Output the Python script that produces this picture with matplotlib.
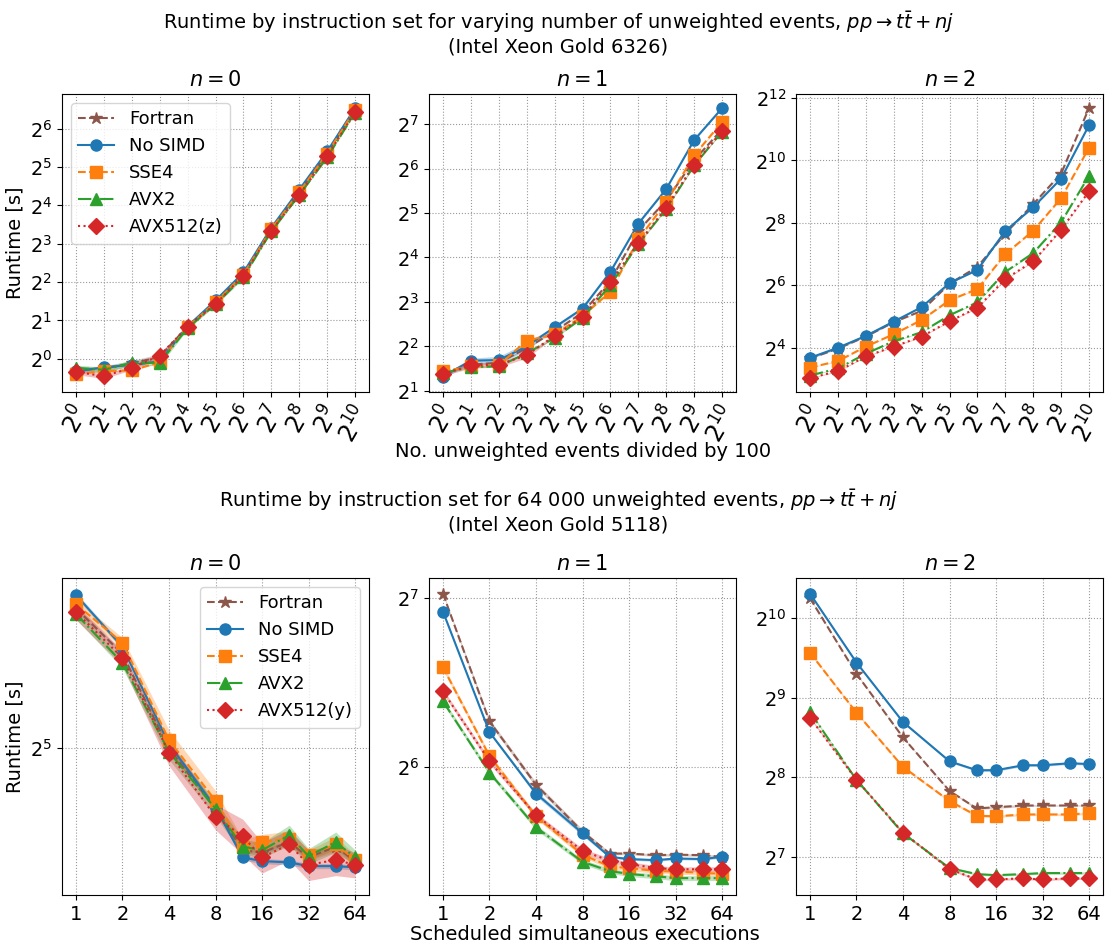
import numpy as np
import matplotlib
matplotlib.use("Agg")
from matplotlib import pyplot as plt

plt.rcParams["font.size"] = 14

# ---- data -----------------------------------------------------------------
labels = ["Fortran", "No SIMD", "SSE4", "AVX2", "AVX512"]
colors = ["tab:brown", "tab:blue", "tab:orange", "tab:green", "tab:red"]
styles = ["--", "-", "--", "-.", ":"]
markers = ["*", "o", "s", "^", "D"]

# top row: Intel Xeon Gold 6326, x = unweighted events / 100
events = [1, 2, 4, 8, 16, 32, 64, 128, 256, 512, 1024]

top_n0 = {
    "Fortran": [0.81, 0.84, 0.92, 1.035, 1.80, 2.77, 4.59, 10.4, 20.4, 40.8, 90.5],
    "No SIMD": [0.795, 0.858, 0.895, 0.953, 1.80, 2.87, 4.76, 10.7, 21.3, 42.5, 93.0],
    "SSE4": [0.76, 0.80, 0.81, 0.94, 1.78, 2.77, 4.59, 10.4, 20.4, 40.8, 90.5],
    "AVX2": [0.85, 0.82, 0.93, 0.93, 1.74, 2.68, 4.38, 9.99, 19.3, 38.1, 85.6],
    "AVX512": [0.79, 0.73, 0.85, 1.06, 1.79, 2.69, 4.50, 10.1, 19.4, 38.9, 86.8],
}
top_n1 = {
    "Fortran": [2.64, 3.01, 3.10, 3.89, 5.06, 6.77, 11.1, 24.3, 38.9, 73.0, 118],
    "No SIMD": [2.50, 3.20, 3.23, 4.00, 5.39, 7.21, 12.8, 27.1, 46.5, 99.7, 164],
    "SSE4": [2.71, 2.93, 2.97, 4.38, 4.82, 6.41, 9.38, 21.3, 37.8, 78.8, 132],
    "AVX2": [2.64, 2.89, 2.93, 3.60, 4.56, 6.23, 10.4, 19.7, 34.1, 67.2, 114],
    "AVX512": [2.60, 2.97, 3.01, 3.48, 4.72, 6.32, 10.9, 20.0, 34.8, 68.1, 115],
}
top_n2 = {
    "Fortran": [12.6, 15.7, 20.5, 28.2, 36.3, 66.3, 96.3, 202, 388, 765, 3281],
    "No SIMD": [12.8, 16.0, 20.8, 28.6, 39.4, 67.2, 89.9, 214, 362, 685, 2241],
    "SSE4": [10.3, 11.9, 16.4, 21.6, 29.6, 45.9, 58.9, 128, 215, 443, 1361],
    "AVX2": [8.63, 10.1, 14.0, 18.5, 22.6, 32.9, 44.0, 86.2, 131, 260, 729],
    "AVX512": [8.17, 9.5, 13.2, 16.4, 20.5, 28.8, 38.9, 73.5, 109, 220, 516],
}

# bottom row: Intel Xeon Gold 5118, 64 000 events
execs = [1, 2, 4, 8, 12, 16, 24, 32, 48, 64]

bot_n0 = {
    "Fortran": [55.4, 46.3, 31.9, 25.2, 21.4, 21.2, 22.1, 20.8, 21.7, 20.5],
    "No SIMD": [58.4, 47.6, 32.5, 25.3, 20.8, 20.5, 20.4, 20.1, 20.1, 20.0],
    "SSE4": [56.3, 48.4, 33.0, 26.0, 21.7, 22.1, 22.4, 21.0, 21.9, 20.6],
    "AVX2": [54.2, 44.7, 31.5, 25.2, 21.7, 21.4, 22.7, 20.9, 22.1, 20.8],
    "AVX512": [54.6, 45.6, 31.4, 24.4, 22.6, 20.8, 21.9, 20.2, 20.6, 20.2],
}
bot_n1 = {
    "Fortran": [130.1, 77.2, 59.6, 49.2, 45.0, 45.0, 44.7, 44.8, 44.7, 44.4],
    "No SIMD": [120.9, 73.9, 57.5, 48.9, 44.4, 44.0, 43.8, 44.1, 44.0, 44.4],
    "SSE4": [96.3, 67.0, 52.4, 44.8, 42.7, 42.4, 41.9, 41.8, 41.6, 41.4],
    "AVX2": [83.8, 62.6, 50.1, 43.5, 41.9, 41.4, 41.0, 40.7, 40.7, 40.7],
    "AVX512": [87.3, 65.6, 52.6, 45.5, 43.7, 43.1, 42.4, 42.2, 42.2, 42.2],
}
bot_n2 = {
    "Fortran": [1218, 630, 362, 227, 195, 197, 200, 200, 200, 200],
    "No SIMD": [1268, 695, 414, 294, 272, 272, 284, 284, 289, 287],
    "SSE4": [758, 449, 280, 208, 183, 182, 185, 185, 185, 187],
    "AVX2": [452, 250, 157, 116, 110, 109, 110, 111, 111, 111],
    "AVX512": [430, 250, 158, 115, 105, 105, 106, 105, 106, 106],
}

# relative spread (std / mean) shown as shaded band, where visible
spread_top_n0 = {
    "Fortran": [0.05, 0.05, 0.05, 0.06, 0.02, 0.02, 0.02, 0.01, 0.01, 0.01, 0.01],
    "AVX2": [0.05, 0.05, 0.05, 0.05, 0.02, 0.02, 0.02, 0.01, 0.01, 0.01, 0.01],
    "AVX512": [0.05, 0.04, 0.04, 0.05, 0.02, 0.02, 0.02, 0.01, 0.01, 0.01, 0.01],
}
spread_top_n1 = {
    "No SIMD": [0.03, 0.04, 0.06, 0.06, 0.02, 0.02, 0.01, 0.01, 0.01, 0.01, 0.01],
    "AVX512": [0.03, 0.04, 0.04, 0.04, 0.02, 0.02, 0.01, 0.01, 0.01, 0.01, 0.01],
}
spread_bot_n0 = {
    "SSE4": [0.02, 0.02, 0.04, 0.04, 0.03, 0.03, 0.03, 0.02, 0.03, 0.02],
    "AVX2": [0.02, 0.02, 0.03, 0.03, 0.03, 0.03, 0.04, 0.03, 0.04, 0.03],
    "AVX512": [0.03, 0.03, 0.05, 0.05, 0.07, 0.06, 0.06, 0.06, 0.06, 0.05],
}
spread_bot_n1 = {
    "Fortran": [0.005, 0.01, 0.01, 0.01, 0.005, 0.005, 0.005, 0.005, 0.005, 0.005],
    "No SIMD": [0.005, 0.005, 0.01, 0.01, 0.005, 0.005, 0.005, 0.005, 0.005, 0.005],
}
spread_bot_n2 = {
    "Fortran": [0.005, 0.005, 0.005, 0.005, 0.01, 0.01, 0.01, 0.005, 0.005, 0.005],
}

# ---- figure ---------------------------------------------------------------
W, H = 1110, 951
fig = plt.figure(figsize=(W / 100, H / 100), dpi=100)


def px_axes(x0, y0, x1, y1):
    return fig.add_axes([x0 / W, 1 - y1 / H, (x1 - x0) / W, (y1 - y0) / H])


lefts = [62, 429, 796]
width = 307
top_axes = [px_axes(l, 94, l + width, 392) for l in lefts]
bot_axes = [px_axes(l, 578, l + width, 895) for l in lefts]


def draw(ax, x, data, spread, default_spread=0.01):
    for lab, c, ls, m in zip(labels, colors, styles, markers):
        y = np.asarray(data[lab], dtype=float)
        s = np.asarray(spread.get(lab, [default_spread] * len(x)))
        ax.fill_between(x, y * (1 - s), y * (1 + s), color=c, alpha=0.3, lw=0)
        ax.plot(x, y, ls=ls, marker=m, color=c, ms=9 if m == "*" else 8, lw=1.5, label=lab)
    ax.set_yscale("log", base=2)
    ax.set_xscale("log", base=2)
    ax.grid(True, which="major", ls=":", color="0.6", lw=0.8)
    ax.minorticks_off()


for i, (ax, d, sp) in enumerate(zip(top_axes, [top_n0, top_n1, top_n2],
                                    [spread_top_n0, spread_top_n1, {}])):
    draw(ax, events, d, sp)
    ax.set_xticks(events)
    ax.minorticks_off()
    ax.tick_params(axis="x", labelsize=17)
    plt.setp(ax.get_xticklabels(), rotation=60)
    ax.set_title(f"$n = {i}$", fontsize=15)

for i, (ax, d, sp) in enumerate(zip(bot_axes, [bot_n0, bot_n1, bot_n2],
                                    [spread_bot_n0, spread_bot_n1, spread_bot_n2])):
    draw(ax, execs, d, sp)
    ticks = [1, 2, 4, 8, 16, 32, 64]
    ax.set_xticks(ticks)
    ax.set_xticklabels([str(t) for t in ticks])
    ax.minorticks_off()
    ax.set_title(f"$n = {i}$", fontsize=15)

top_axes[0].set_ylabel("Runtime [s]")
bot_axes[0].set_ylabel("Runtime [s]")

h, _ = top_axes[0].get_legend_handles_labels()
top_axes[0].legend(h, labels[:4] + ["AVX512(z)"], loc="upper left", fontsize=13)
h, _ = bot_axes[0].get_legend_handles_labels()
bot_axes[0].legend(h, labels[:4] + ["AVX512(y)"], loc="upper right", fontsize=13)

fig.text(0.503, 1 - 33 / H,
         "Runtime by instruction set for varying number of unweighted events, "
         "$pp \\rightarrow t\\bar{t} + nj$\n(Intel Xeon Gold 6326)",
         ha="center", va="center", fontsize=14, linespacing=1.2)
fig.text(583 / W, 1 - 452 / H, "No. unweighted events divided by 100",
         ha="center", va="center", fontsize=14)
fig.text(0.503, 1 - 511 / H,
         "Runtime by instruction set for 64 000 unweighted events, "
         "$pp \\rightarrow t\\bar{t} + nj$\n(Intel Xeon Gold 5118)",
         ha="center", va="center", fontsize=14, linespacing=1.2)
fig.text(585 / W, 1 - 935 / H, "Scheduled simultaneous executions",
         ha="center", va="center", fontsize=14)

fig.savefig("out.png", dpi=100)
